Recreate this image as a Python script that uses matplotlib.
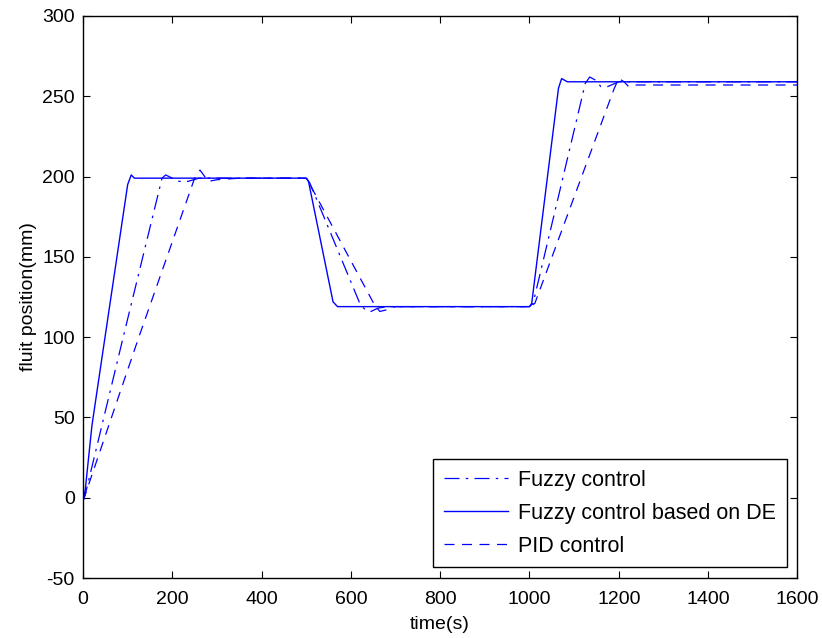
import numpy as np
import matplotlib
matplotlib.use('Agg')
import matplotlib.pyplot as plt

plt.rcParams['font.family'] = ['Liberation Sans', 'DejaVu Sans']
plt.rcParams['axes.unicode_minus'] = False

# Fuzzy control based on DE (solid)
t_de = [0, 5, 20, 45, 100, 108, 115, 130, 500, 505, 560, 570, 575, 1000, 1005, 1065, 1072, 1085, 1100, 1600]
y_de = [-2, 5, 45, 92, 195, 201, 199, 199, 199, 197, 122, 119, 119, 119, 121, 255, 261, 259, 259, 259]

# Fuzzy control
t_fz = [0, 5, 90, 177, 185, 200, 215, 235, 260, 400, 500, 508, 620, 632, 645, 660, 680, 1000, 1008, 1125, 1135,
        1148, 1160, 1175, 1200, 1600]
y_fz = [-2, 2, 100, 199, 201, 199, 197, 197, 199, 199, 199, 196, 121, 117, 116, 118, 119, 119, 121, 258, 262,
        260, 256, 256, 259, 259]

# PID control
t_pid = [0, 5, 125, 250, 262, 270, 280, 300, 350, 500, 518, 655, 665, 680, 700, 1000, 1012, 1190, 1200, 1212,
         1222, 1240, 1270, 1600]
y_pid = [-2, 2, 100, 199, 204, 201, 197, 198, 199, 199, 190, 119, 116, 117, 119, 119, 121, 255, 261, 259,
         256, 257, 257, 257]

fig = plt.figure(figsize=(8.22, 6.38), dpi=100)
ax = fig.add_axes([0.101, 0.094, 0.869, 0.881])

ax.plot(t_fz, y_fz, color='#0000ff', lw=0.9, linestyle=(0, (12, 5, 2, 5)), label='Fuzzy control')
ax.plot(t_de, y_de, color='#0000ff', lw=1.0, linestyle='-', label='Fuzzy control based on DE')
ax.plot(t_pid, y_pid, color='#0000ff', lw=0.9, linestyle=(0, (8, 6)), label='PID control')

ax.set_xlim(0, 1600)
ax.set_ylim(-50, 300)
ax.set_xticks(np.arange(0, 1601, 200))
ax.set_yticks(np.arange(-50, 301, 50))
ax.tick_params(direction='in', top=True, right=True, length=5, labelsize=14)
ax.tick_params(axis='x', pad=9)
ax.tick_params(axis='y', pad=6)
for s in ax.spines.values():
    s.set_linewidth(1.0)

ax.set_xlabel('time(s)', fontsize=14, labelpad=6)
ax.set_ylabel('fluit position(mm)', fontsize=14, labelpad=4)

leg = ax.legend(loc='lower right', fontsize=15.5, fancybox=False, framealpha=1, edgecolor='black',
                handlelength=3.0, borderaxespad=0.5, handletextpad=0.45, labelspacing=0.55,
                borderpad=0.5)
leg.get_frame().set_linewidth(1.0)

fig.savefig('out.png', dpi=100)
